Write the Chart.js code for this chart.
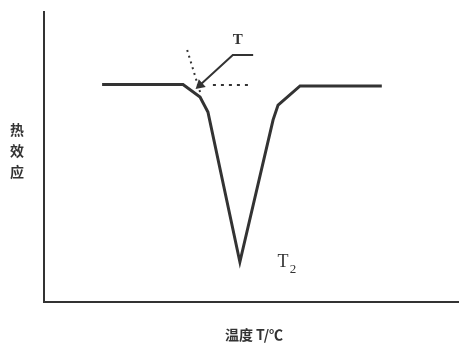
<!DOCTYPE html>
<html>
<head>
<meta charset="utf-8">
<script src="https://cdn.jsdelivr.net/npm/chart.js@4"></script>
<style>
  html, body { margin: 0; padding: 0; background: #fff; }
  #wrap { width: 459px; height: 343px; }
</style>
</head>
<body>
<div id="wrap"><canvas id="dta" width="459" height="343"></canvas></div>
<script>
// DTA curve (arbitrary units)
const curveX = [14, 33.5, 37.6, 39.5, 47.2, 55.2, 56.4, 61.7, 81.4];
const curveY = [75, 75, 70.7, 65.5, 13.8, 62.8, 67.9, 74.5, 74.5];

// dotted tangent and baseline extension
const tangentX = [34.5, 37.6];
const tangentY = [86.9, 72.4];
const baseX = [40.7, 49.2];
const baseY = [74.8, 74.8];

// leader line to the label T
const leaderX = [37.6, 45.5, 50.4];
const leaderY = [74.8, 85.2, 85.2];

const yTitle = ['热', '效', '应'];
const xTitle = '温度 T/℃';
const labelT = { text: 'T', x: 46.7, y: 90.3 };
const labelT2 = { text: 'T', sub: '2', x: 57.6, y: 13.8 };

const pts = (xs, ys) => xs.map((x, i) => ({ x: x, y: ys[i] }));
const ink = '#333';

const textPlugin = {
  id: 'texts',
  afterDraw(chart) {
    const { ctx, scales } = chart;
    const sx = scales.x, sy = scales.y;
    ctx.save();
    ctx.fillStyle = ink;
    ctx.textAlign = 'center';
    ctx.textBaseline = 'middle';

    // label T
    ctx.font = 'bold 15px "Liberation Serif", serif';
    ctx.fillText(labelT.text, sx.getPixelForValue(labelT.x), sy.getPixelForValue(labelT.y));

    // label T2
    const tx = sx.getPixelForValue(labelT2.x), ty = sy.getPixelForValue(labelT2.y);
    ctx.font = '18px "Liberation Serif", serif';
    ctx.fillText(labelT2.text, tx, ty);
    ctx.font = '13px "Liberation Serif", serif';
    ctx.fillText(labelT2.sub, tx + 10, ty + 8);

    // vertical y title
    ctx.font = 'bold 14px "Noto Sans CJK SC"';
    yTitle.forEach((c, i) => ctx.fillText(c, 17, 130 + i * 21));

    // x title
    ctx.font = 'bold 14px "Noto Sans CJK SC"';
    ctx.fillText(xTitle, 254, 335);
    ctx.restore();
  }
};

new Chart(document.getElementById('dta'), {
  type: 'line',
  data: {
    datasets: [
      { data: pts(curveX, curveY), borderColor: ink, borderWidth: 3, pointRadius: 0, tension: 0 },
      { data: pts(tangentX, tangentY), borderColor: ink, borderWidth: 2, borderDash: [2, 4], pointRadius: 0 },
      { data: pts(baseX, baseY), borderColor: ink, borderWidth: 2, borderDash: [3, 5], pointRadius: 0 },
      { data: pts(leaderX, leaderY), borderColor: ink, borderWidth: 2, backgroundColor: ink,
        pointRadius: [4, 0, 0], pointStyle: 'triangle', rotation: 228 }
    ]
  },
  options: {
    responsive: false,
    animation: false,
    layout: { autoPadding: false, padding: { left: 44, top: 12, right: 0, bottom: 41 } },
    plugins: { legend: { display: false }, tooltip: { enabled: false } },
    scales: {
      x: {
        type: 'linear', min: 0, max: 100,
        ticks: { display: false }, grid: { display: false },
        border: { display: true, color: ink, width: 2 },
        afterFit: s => { s.height = 0; s.paddingLeft = 0; s.paddingRight = 0; }
      },
      y: {
        type: 'linear', min: 0, max: 100,
        ticks: { display: false }, grid: { display: false },
        border: { display: true, color: ink, width: 2 },
        afterFit: s => { s.width = 0; s.paddingTop = 0; s.paddingBottom = 0; }
      }
    }
  },
  plugins: [textPlugin]
});
</script>
</body>
</html>
